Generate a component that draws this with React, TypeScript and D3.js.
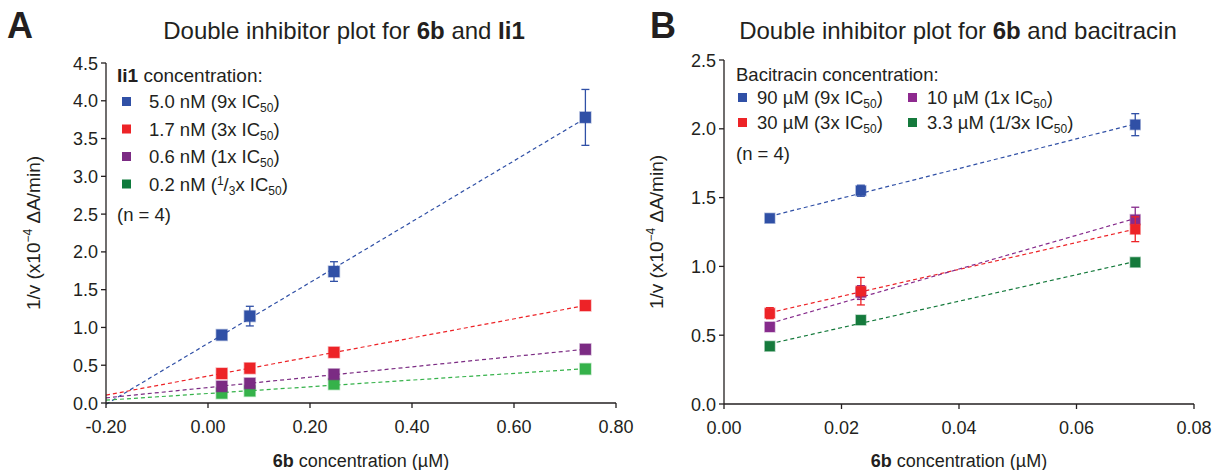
import React from "react";
import { scaleLinear, line, range } from "d3";

// ---- panel A: 6b + Ii1 ----
const concA = [0.027, 0.082, 0.247, 0.74];
const namesA = ["5.0 nM", "1.7 nM", "0.6 nM", "0.2 nM"];
const foldA = ["9x", "3x", "1x", "1/3x"];
const blueA = [0.9, 1.15, 1.74, 3.78];
const redA = [0.39, 0.46, 0.67, 1.29];
const purpleA = [0.22, 0.26, 0.38, 0.71];
const greenA = [0.13, 0.16, 0.25, 0.45];
const blueErrA = [0.03, 0.13, 0.13, 0.37];
const redErrA = [0.02, 0.02, 0.03, 0.03];
const purpleErrA = [0.02, 0.02, 0.02, 0.02];
const greenErrA = [0.01, 0.01, 0.02, 0.02];
const xTicksA = [-0.2, 0, 0.2, 0.4, 0.6, 0.8];
const yTicksA = [0, 0.5, 1, 1.5, 2, 2.5, 3, 3.5, 4, 4.5];

// ---- panel B: 6b + bacitracin ----
const concB = [0.0078, 0.0233, 0.07];
const namesB = ["90 µM", "30 µM", "10 µM", "3.3 µM"];
const foldB = ["9x", "3x", "1x", "1/3x"];
const blueB = [1.35, 1.55, 2.03];
const redB = [0.66, 0.82, 1.27];
const purpleB = [0.56, 0.81, 1.34];
const greenB = [0.42, 0.61, 1.03];
const blueErrB = [0.02, 0.04, 0.08];
const redErrB = [0.04, 0.1, 0.09];
const purpleErrB = [0.03, 0.05, 0.09];
const greenErrB = [0.01, 0.01, 0.01];
const xTicksB = [0, 0.02, 0.04, 0.06, 0.08];
const yTicksB = [0, 0.5, 1, 1.5, 2, 2.5];

const FONT = "'Liberation Sans', Arial, Helvetica, sans-serif";
const INK = "#231f20";

// least squares trend line, like the spreadsheet did
function fit(xs: number[], ys: number[]) {
  const n = xs.length;
  const mx = xs.reduce((a, b) => a + b, 0) / n;
  const my = ys.reduce((a, b) => a + b, 0) / n;
  let sxy = 0, sxx = 0;
  xs.forEach((x, i) => {
    sxy += (x - mx) * (ys[i] - my);
    sxx += (x - mx) * (x - mx);
  });
  const slope = sxy / sxx;
  return (x: number) => my + slope * (x - mx);
}

type Series = {
  ys: number[];
  errs: number[];
  color: string;
  legendColor: string;
};

function Panel(props: {
  letter: string;
  letterX: number;
  titleX: number;
  titleEnd: string;
  x0: number;
  x1: number;
  yTop: number;
  yBot: number;
  xDomain: [number, number];
  yDomain: [number, number];
  xTicks: number[];
  yTicks: number[];
  xs: number[];
  lineFrom: number;
  series: Series[];
  marker: number;
  yTitleX: number;
  legend: React.ReactNode;
}) {
  const p = props;
  const x = scaleLinear().domain(p.xDomain).range([p.x0, p.x1]);
  const y = scaleLinear().domain(p.yDomain).range([p.yBot, p.yTop]);
  const xEnd = p.xs[p.xs.length - 1];
  const midX = (p.x0 + p.x1) / 2;
  const midY = (p.yTop + p.yBot) / 2;

  return (
    <g fontFamily={FONT} fill={INK}>
      <text x={p.letterX} y={38} fontSize={36} fontWeight="bold">
        {p.letter}
      </text>
      <text x={p.titleX} y={39} fontSize={24} textAnchor="middle">
        Double inhibitor plot for <tspan fontWeight="bold">6b</tspan>{" "}
        and {p.titleEnd === "Ii1" ? <tspan fontWeight="bold">Ii1</tspan> : p.titleEnd}
      </text>

      {/* trend lines */}
      {p.series.map((s, i) => {
        const f = fit(p.xs, s.ys);
        const pts = [p.lineFrom, xEnd];
        const path = line<number>()
          .x((d) => x(d))
          .y((d) => y(f(d)))(pts);
        return (
          <path
            key={"l" + i}
            d={path || ""}
            fill="none"
            stroke={s.color}
            strokeWidth={1.2}
            strokeDasharray="4,3"
          />
        );
      })}

      {/* error bars and markers, drawn back to front */}
      {p.series
        .map((s, i) => ({ s, i }))
        .reverse()
        .map(({ s, i }) => (
          <g key={"s" + i}>
            {p.xs.map((cx, j) => {
              const px = x(cx);
              const hi = y(s.ys[j] + s.errs[j]);
              const lo = y(s.ys[j] - s.errs[j]);
              return (
                <g key={j} stroke={s.color} strokeWidth={1.3}>
                  <line x1={px} x2={px} y1={hi} y2={lo} />
                  <line x1={px - 4} x2={px + 4} y1={hi} y2={hi} />
                  <line x1={px - 4} x2={px + 4} y1={lo} y2={lo} />
                </g>
              );
            })}
            {p.xs.map((cx, j) => (
              <rect
                key={"m" + j}
                x={x(cx) - p.marker / 2}
                y={y(s.ys[j]) - p.marker / 2}
                width={p.marker}
                height={p.marker}
                fill={s.color}
                stroke={s.color}
                strokeOpacity={0.35}
                strokeWidth={1.5}
              />
            ))}
          </g>
        ))}

      {/* axes */}
      <g stroke={INK} strokeWidth={1.3} fill="none">
        <line x1={p.x0} x2={p.x0} y1={p.yTop} y2={p.yBot} />
        <line x1={p.x0} x2={p.x1} y1={p.yBot} y2={p.yBot} />
        {p.yTicks.map((t) => (
          <line key={t} x1={p.x0 - 5} x2={p.x0} y1={y(t)} y2={y(t)} />
        ))}
        {p.xTicks.map((t) => (
          <line key={t} x1={x(t)} x2={x(t)} y1={p.yBot} y2={p.yBot + 5} />
        ))}
      </g>
      {p.yTicks.map((t) => (
        <text key={t} x={p.x0 - 8} y={y(t) + 6.5} fontSize={18} textAnchor="end">
          {t.toFixed(1)}
        </text>
      ))}
      {p.xTicks.map((t) => (
        <text key={t} x={x(t)} y={p.yBot + 30} fontSize={18} textAnchor="middle">
          {t.toFixed(2)}
        </text>
      ))}
      <text x={midX} y={467} fontSize={18} textAnchor="middle">
        <tspan fontWeight="bold">6b</tspan> concentration (µM)
      </text>
      <text
        transform={`translate(${p.yTitleX},${midY}) rotate(-90)`}
        fontSize={19}
        textAnchor="middle"
      >
        1/v (x10<tspan dy={-8} fontSize={12}>−4</tspan>
        <tspan dy={8}> ΔA/min)</tspan>
      </text>
      {p.legend}
    </g>
  );
}

function Label(props: { x: number; y: number; name: string; fold: string; size: number; split: boolean }) {
  const { x, y, name, fold, size, split } = props;
  const sub = Math.round(size * 0.65);
  return (
    <text x={x} y={y} fontSize={size}>
      {name} (
      {fold === "1/3x" && split ? (
        <>
          <tspan dy={-6} fontSize={sub}>1</tspan>
          <tspan dy={6}>/</tspan>
          <tspan dy={4} fontSize={sub}>3</tspan>
          <tspan dy={-4}>x IC</tspan>
        </>
      ) : (
        <tspan>{fold} IC</tspan>
      )}
      <tspan dy={4} fontSize={sub}>50</tspan>
      <tspan dy={-4}>)</tspan>
    </text>
  );
}

export default function App() {
  const seriesA: Series[] = [
    { ys: blueA, errs: blueErrA, color: "#3050a6", legendColor: "#3050a6" },
    { ys: redA, errs: redErrA, color: "#ed2327", legendColor: "#ed2327" },
    { ys: purpleA, errs: purpleErrA, color: "#7b2b83", legendColor: "#7b2b83" },
    { ys: greenA, errs: greenErrA, color: "#35b24a", legendColor: "#0e7a3c" },
  ];
  const seriesB: Series[] = [
    { ys: blueB, errs: blueErrB, color: "#3050a6", legendColor: "#3050a6" },
    { ys: redB, errs: redErrB, color: "#ed2327", legendColor: "#ed2327" },
    { ys: purpleB, errs: purpleErrB, color: "#862b8c", legendColor: "#8e2a8f" },
    { ys: greenB, errs: greenErrB, color: "#157a3c", legendColor: "#157a3c" },
  ];

  const legendA = (
    <g>
      <text x={117} y={82} fontSize={19}>
        <tspan fontWeight="bold">Ii1</tspan> concentration:
      </text>
      {range(4).map((i) => (
        <g key={i}>
          <rect x={122} y={97 + i * 27.5} width={9} height={9} fill={seriesA[i].legendColor} />
          <Label x={149} y={108 + i * 27.5} name={namesA[i]} fold={foldA[i]} size={18.5} split={true} />
        </g>
      ))}
      <text x={117} y={221} fontSize={18.5}>(n = 4)</text>
    </g>
  );

  const legendB = (
    <g>
      <text x={736} y={81} fontSize={18.5}>Bacitracin concentration:</text>
      {range(4).map((i) => {
        const col = i < 2 ? 0 : 1;
        const row = i % 2;
        const lx = col === 0 ? 738 : 908;
        const ly = 98 + row * 25;
        return (
          <g key={i}>
            <rect x={lx} y={ly - 5} width={9} height={9} fill={seriesB[i].legendColor} />
            <Label x={lx + 19} y={ly + 6} name={namesB[i]} fold={foldB[i]} size={18.5} split={false} />
          </g>
        );
      })}
      <text x={736} y={160} fontSize={18.5}>(n = 4)</text>
    </g>
  );

  return (
    <svg
      width={1215}
      height={470}
      style={{ position: "absolute", left: 0, top: 0, background: "#fff" }}
    >
      <Panel
        letter="A"
        letterX={7}
        titleX={344}
        titleEnd="Ii1"
        x0={106}
        x1={616}
        yTop={63}
        yBot={403}
        xDomain={[-0.2, 0.8]}
        yDomain={[0, 4.5]}
        xTicks={xTicksA}
        yTicks={yTicksA}
        xs={concA}
        lineFrom={-0.2}
        series={seriesA}
        marker={11}
        yTitleX={40}
        legend={legendA}
      />
      <Panel
        letter="B"
        letterX={650}
        titleX={958}
        titleEnd="bacitracin"
        x0={724}
        x1={1194}
        yTop={60}
        yBot={404}
        xDomain={[0, 0.08]}
        yDomain={[0, 2.5]}
        xTicks={xTicksB}
        yTicks={yTicksB}
        xs={concB}
        lineFrom={concB[0]}
        series={seriesB}
        marker={10}
        yTitleX={663}
        legend={legendB}
      />
    </svg>
  );
}
